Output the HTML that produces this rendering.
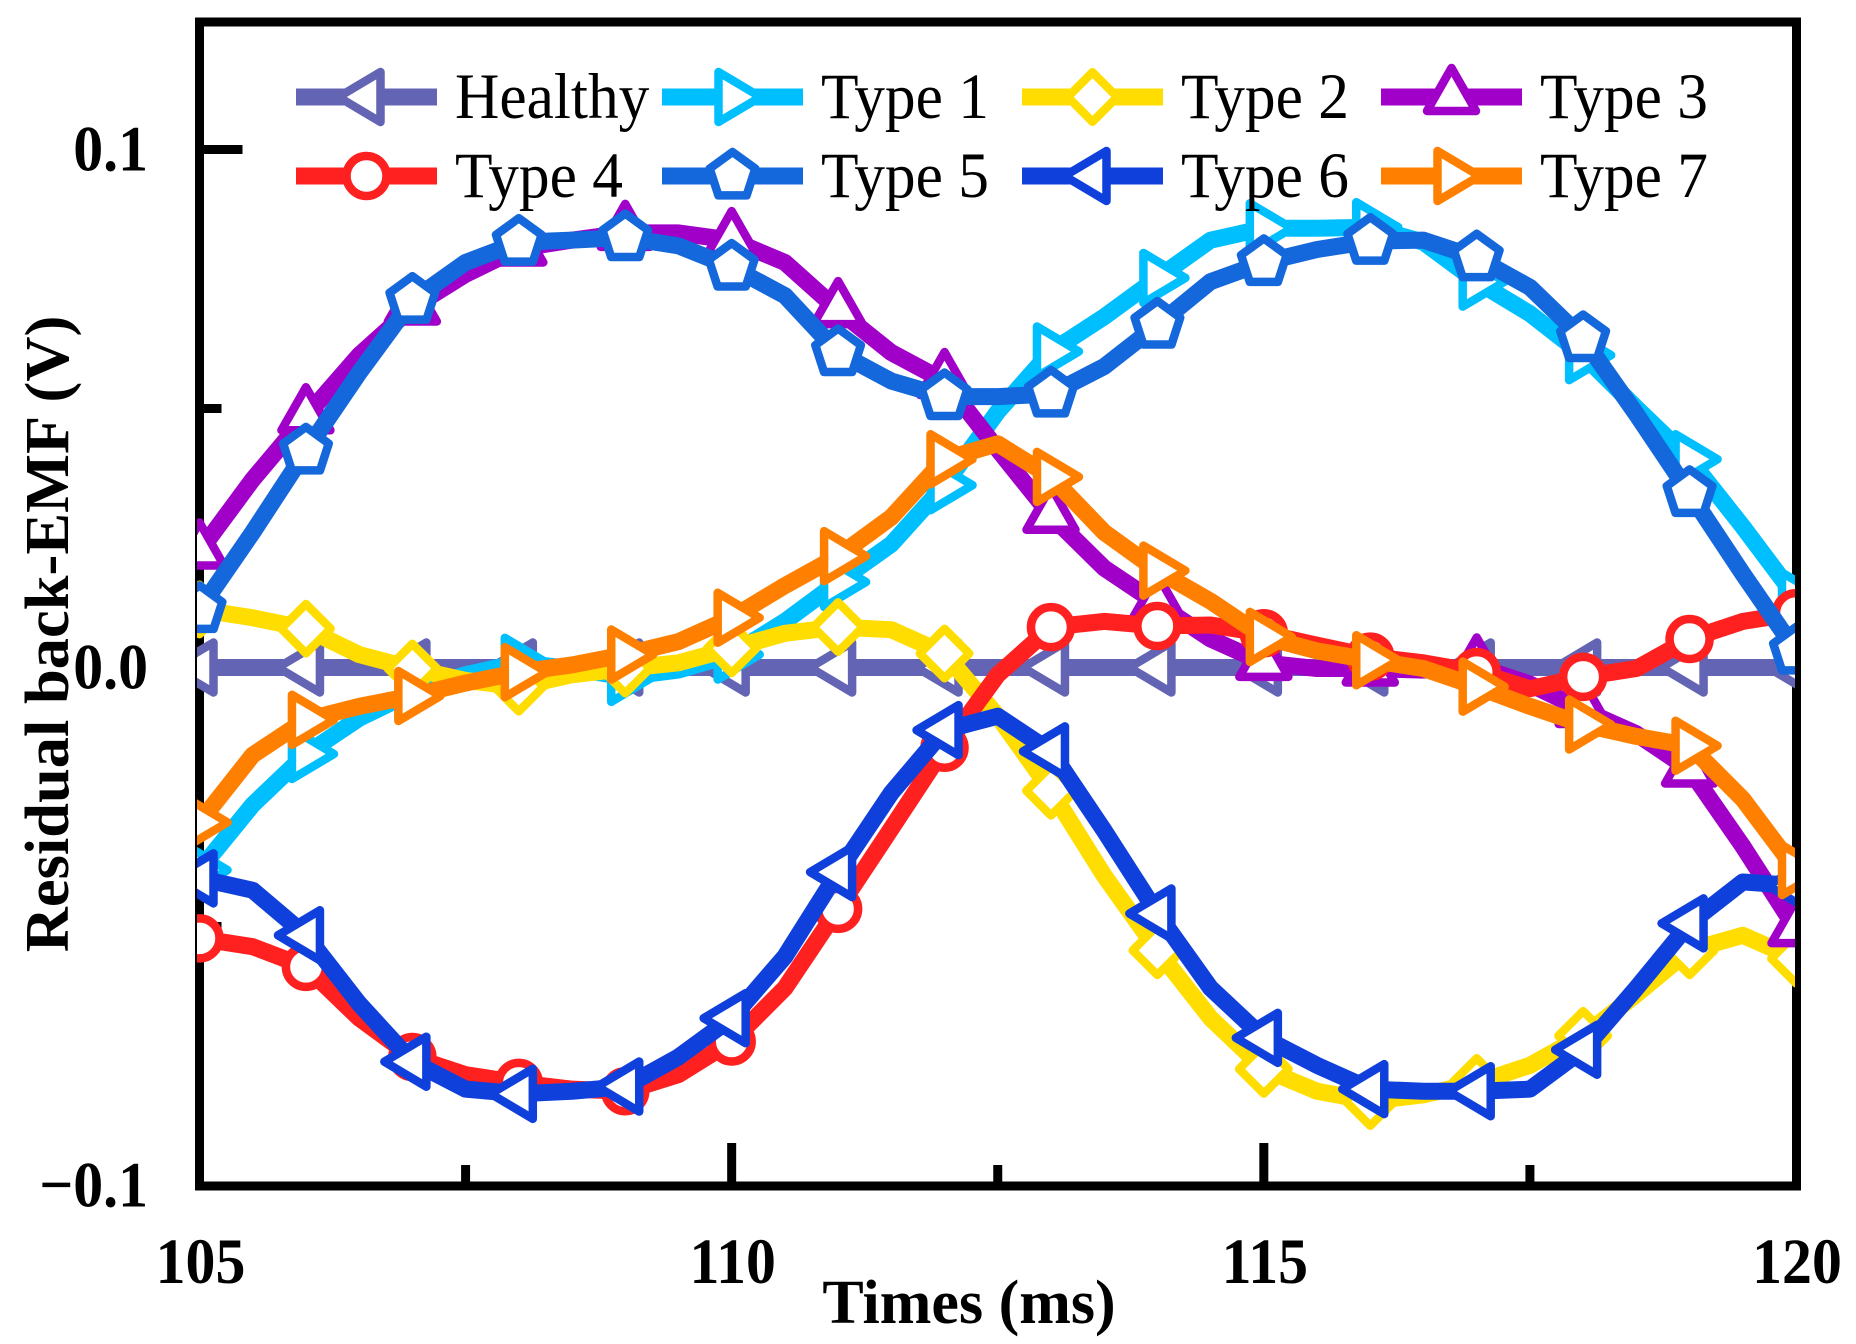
<!DOCTYPE html>
<html lang="en">
<head>
<meta charset="utf-8">
<title>Residual back-EMF chart</title>
<style>
html,body{margin:0;padding:0;background:#fff;width:1856px;height:1344px;overflow:hidden}
svg{display:block;position:absolute;left:0;top:0}
text{font-family:"Liberation Serif",serif;fill:#000}
.bold{font-weight:bold}
</style>
</head>
<body>
<svg id="chart" xmlns="http://www.w3.org/2000/svg" width="1856" height="1344" viewBox="0 0 1856 1344">
  <defs>
    <clipPath id="plot-clip"><rect x="197" y="26" width="1598" height="1156"/></clipPath>
  </defs>
  <rect x="0" y="0" width="1856" height="1344" fill="#fff"/>
  <rect x="199.5" y="22" width="1597" height="1164" fill="none" stroke="#000" stroke-width="9"/>
  <g id="x-ticks"></g>
  <g id="y-ticks"></g>
  <g id="series-layer" clip-path="url(#plot-clip)"></g>
  <g id="legend"></g>
  <text class="bold" x="969" y="1323" font-size="62" text-anchor="middle">Times (ms)</text>
  <text class="bold" transform="translate(68,634) rotate(-90)" font-size="62.5" text-anchor="middle">Residual back-EMF (V)</text>
</svg>
<script>
const times = [105,105.5,106,106.5,107,107.5,108,108.5,109,109.5,110,110.5,111,111.5,112,112.5,113,113.5,114,114.5,115,115.5,116,116.5,117,117.5,118,118.5,119,119.5,120];
const healthy = [0,0,0,0,0,0,0,0,0,0,0,0,0,0,0,0,0,0,0,0,0,0,0,0,0,0,0,0,0,0,0];
const type1 = [-0.0391,-0.0265,-0.0167,-0.0098,-0.0048,-0.0014,0.0009,-0.0002,-0.0018,-0.0005,0.0025,0.0089,0.0165,0.0238,0.0352,0.0494,0.0610,0.0677,0.0752,0.0825,0.0848,0.0848,0.0850,0.0821,0.0745,0.0683,0.0603,0.0501,0.0402,0.0272,0.0135];
const type2 = [0.0112,0.0096,0.0075,0.0025,-0.0002,-0.0025,-0.0037,-0.0014,-0.0002,0.0009,0.0037,0.0066,0.0078,0.0073,0.0027,-0.0094,-0.0238,-0.0402,-0.0546,-0.0677,-0.0775,-0.0818,-0.0837,-0.0825,-0.0802,-0.0768,-0.0711,-0.0631,-0.0546,-0.0517,-0.0562];
const type3 = [0.0224,0.0363,0.0485,0.0603,0.0695,0.0759,0.0809,0.0825,0.0839,0.0839,0.0825,0.0782,0.0690,0.0608,0.0553,0.0421,0.0293,0.0192,0.0123,0.0055,0.0009,-0.0002,-0.0002,-0.0005,0.0002,-0.0032,-0.0082,-0.0128,-0.0197,-0.0345,-0.0505];
const type4 = [-0.0523,-0.0539,-0.0578,-0.0677,-0.0752,-0.0786,-0.0802,-0.0814,-0.0818,-0.0786,-0.0722,-0.0619,-0.0466,-0.0311,-0.0155,-0.0014,0.0078,0.0089,0.0080,0.0082,0.0066,0.0043,0.0021,0.0009,-0.0009,-0.0041,-0.0018,-0.0002,0.0055,0.0089,0.0105];
const type5 = [0.0112,0.0261,0.0418,0.0569,0.0709,0.0782,0.0821,0.0825,0.0830,0.0814,0.0773,0.0718,0.0608,0.0553,0.0523,0.0523,0.0528,0.0581,0.0661,0.0745,0.0782,0.0807,0.0823,0.0825,0.0791,0.0734,0.0635,0.0489,0.0336,0.0181,0.0032];
const type6 = [-0.0407,-0.0430,-0.0517,-0.0649,-0.0761,-0.0814,-0.0823,-0.0818,-0.0809,-0.0752,-0.0677,-0.0558,-0.0395,-0.0242,-0.0121,-0.0094,-0.0162,-0.0315,-0.0475,-0.0619,-0.0715,-0.0768,-0.0814,-0.0818,-0.0818,-0.0814,-0.0738,-0.0619,-0.0494,-0.0414,-0.0421];
const type7 = [-0.0299,-0.0169,-0.0101,-0.0075,-0.0055,-0.0030,-0.0009,0.0005,0.0025,0.0050,0.0096,0.0158,0.0215,0.0290,0.0402,0.0432,0.0368,0.0261,0.0187,0.0128,0.0059,0.0032,0.0014,-0.0002,-0.0037,-0.0075,-0.0110,-0.0133,-0.0151,-0.0254,-0.0391];

const xMajorTicks = [110,115];
const xMinorTicks = [107.5,112.5,117.5];
const xTickLabels = ["105","110","115","120"];
const yMajorTicks = [0.1];
const yMinorTicks = [0.05,-0.05];
const yTickLabels = ["0.1","0.0","\u22120.1"];
const legendLabels = ["Healthy","Type 1","Type 2","Type 3","Type 4","Type 5","Type 6","Type 7"];
const seriesValues = [healthy,type1,type2,type3,type4,type5,type6,type7];

const seriesColors = ["#6464b4","#00bfff","#ffdd00","#a000c8","#ff2020","#1468dc","#1040dc","#ff8000"];
const seriesShapes = ["left","right","diamond","up","circle","pentagon","left","right"];

const NS = "http://www.w3.org/2000/svg";
const X0 = 199.5, X1 = 1796, Y0 = 667.5, YP = 149.5;
function xScale(t){ return X0 + (t - 105) * (X1 - X0) / 15; }
function yScale(v){ return Y0 + (YP - Y0) * v / 0.1; }
function slug(s){ return s.toLowerCase().replace(/\s+/g,'-'); }

function markerEl(shape, cx, cy, color){
  let el;
  if(shape === "circle"){
    el = document.createElementNS(NS,"ellipse");
    el.setAttribute("cx",cx);
    el.setAttribute("cy",cy);
    el.setAttribute("rx",20);
    el.setAttribute("ry",20);
  } else {
    const shapes = {
      left:[[-28,0],[14,-25],[14,25]],
      right:[[28,0],[-14,-25],[-14,25]],
      diamond:[[0,-24.7],[24.7,0],[0,24.7],[-24.7,0]],
      up:[[0,-29],[24.5,14],[-24.5,14]],
      pentagon:[[0,-24],[22.8,-7.4],[14.1,19.4],[-14.1,19.4],[-22.8,-7.4]]
    };
    el = document.createElementNS(NS,"polygon");
    el.setAttribute("points",shapes[shape].map(p => (cx+p[0])+","+(cy+p[1])).join(" "));
    el.setAttribute("stroke-linejoin","round");
  }
  el.setAttribute("fill","#fff");
  el.setAttribute("stroke",color);
  el.setAttribute("stroke-width",8.5);
  return el;
}

const xTickGroup = document.getElementById("x-ticks");
function drawXTick(t, len){
  const l = document.createElementNS(NS,"line");
  
  
  l.setAttribute("x1",xScale(t));
  l.setAttribute("x2",xScale(t));
  l.setAttribute("y1",1186);
  l.setAttribute("y2",1186-len);
  l.setAttribute("stroke","#000");
  l.setAttribute("stroke-width",9);
  xTickGroup.appendChild(l);
}
xMajorTicks.forEach(t => drawXTick(t,43));
xMinorTicks.forEach(t => drawXTick(t,21));
xTickLabels.forEach(s => {
  const t = document.createElementNS(NS,"text");
  
  
  t.setAttribute("class","bold");
  t.setAttribute("transform","translate("+(xScale(Number(s))+1)+",1283) scale(0.92,1)");
  t.setAttribute("font-size",65);
  t.setAttribute("text-anchor","middle");
  t.textContent = s;
  xTickGroup.appendChild(t);
});

const yTickGroup = document.getElementById("y-ticks");
function drawYTick(v, len){
  const l = document.createElementNS(NS,"line");
  
  
  l.setAttribute("x1",199.5);
  l.setAttribute("x2",199.5+len);
  l.setAttribute("y1",yScale(v));
  l.setAttribute("y2",yScale(v));
  l.setAttribute("stroke","#000");
  l.setAttribute("stroke-width",9);
  yTickGroup.appendChild(l);
}
yMajorTicks.forEach(v => drawYTick(v,43));
yMinorTicks.forEach(v => drawYTick(v,22));
yTickLabels.forEach(s => {
  const t = document.createElementNS(NS,"text");
  
  
  t.setAttribute("class","bold");
  t.setAttribute("transform","translate(148,"+(yScale(Number(s.replace("\u2212","-")))+21)+") scale(0.92,1)");
  t.setAttribute("font-size",65);
  t.setAttribute("text-anchor","end");
  t.textContent = s;
  yTickGroup.appendChild(t);
});

const seriesLayer = document.getElementById("series-layer");
seriesValues.forEach((vals, i) => {
  const g = document.createElementNS(NS,"g");
  
  
  const line = document.createElementNS(NS,"polyline");
  
  
  line.setAttribute("points",vals.map((v,k) => xScale(times[k])+","+yScale(v)).join(" "));
  line.setAttribute("fill","none");
  line.setAttribute("stroke",seriesColors[i]);
  line.setAttribute("stroke-width",17);
  line.setAttribute("stroke-linejoin","round");
  g.appendChild(line);
  vals.forEach((v,k) => {
    if(!Number.isInteger(times[k])) return;
    const m = markerEl(seriesShapes[i], xScale(times[k]), yScale(v), seriesColors[i]);
    
    
    g.appendChild(m);
  });
  seriesLayer.appendChild(g);
});

const legendGroup = document.getElementById("legend");
const legendColumnX = [296,662,1022,1381];
const legendRowY = [97,176];
legendLabels.forEach((label,i) => {
  const lx = legendColumnX[i % 4];
  const ly = legendRowY[Math.floor(i / 4)];
  const g = document.createElementNS(NS,"g");
  
  
  const l = document.createElementNS(NS,"line");
  l.setAttribute("x1",lx);
  l.setAttribute("x2",lx+141);
  l.setAttribute("y1",ly);
  l.setAttribute("y2",ly);
  l.setAttribute("stroke",seriesColors[i]);
  l.setAttribute("stroke-width",17);
  g.appendChild(l);
  g.appendChild(markerEl(seriesShapes[i], lx+70.5, ly, seriesColors[i]));
  const t = document.createElementNS(NS,"text");
  t.setAttribute("transform","translate("+(lx+159)+","+(ly+21)+") scale(0.945,1)");
  t.setAttribute("font-size",65);
  t.textContent = label;
  g.appendChild(t);
  legendGroup.appendChild(g);
});
</script>
</body>
</html>
